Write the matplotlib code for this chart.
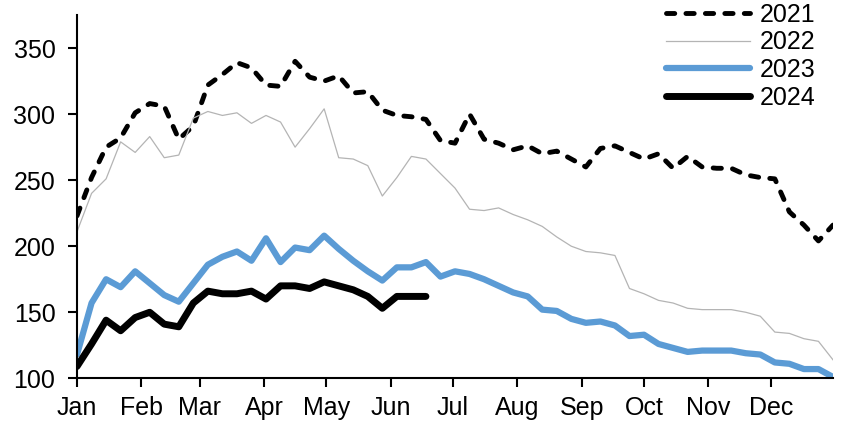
import matplotlib
matplotlib.use("Agg")
import matplotlib.pyplot as plt
import numpy as np

plt.rcParams['font.family'] = ['Liberation Sans', 'DejaVu Sans']

# weekly values, one point every 7 days from Jan 1
y2021 = [223, 252, 275, 282, 301, 308, 306, 281, 291, 322, 330, 339, 335, 322,
         321, 340, 328, 325, 329, 316, 317, 303, 299, 298, 296, 280, 278, 300,
         281, 278, 273, 276, 270, 272, 266, 260, 274, 276, 271, 266, 270, 259,
         268, 260, 259, 259, 254, 252, 251, 226, 216, 204, 216]
y2022 = [211, 240, 251, 279, 271, 283, 267, 269, 297, 302, 299, 301, 293, 299,
         294, 275, 289, 304, 267, 266, 261, 238, 252, 268, 266, 255, 244, 228,
         227, 229, 224, 220, 215, 207, 200, 196, 195, 193, 168, 164, 159, 157,
         153, 152, 152, 152, 150, 147, 135, 134, 130, 128, 114]
y2023 = [118, 157, 175, 169, 181, 172, 163, 158, 172, 186, 192, 196, 189, 206,
         188, 199, 197, 208, 198, 189, 181, 174, 184, 184, 188, 177, 181, 179,
         175, 170, 165, 162, 152, 151, 145, 142, 143, 140, 132, 133, 126, 123,
         120, 121, 121, 121, 119, 118, 112, 111, 107, 107, 101]
y2024 = [109, 126, 144, 136, 146, 150, 141, 139, 157, 166, 164, 164, 166, 160,
         170, 170, 168, 173, 170, 167, 162, 153, 162, 162, 162]

months = ['Jan', 'Feb', 'Mar', 'Apr', 'May', 'Jun', 'Jul', 'Aug', 'Sep', 'Oct', 'Nov', 'Dec']
month_start = [0, 31, 59, 90, 120, 151, 181, 212, 243, 273, 304, 334]

days = np.arange(len(y2021)) * 7

fig = plt.figure(figsize=(8.52, 4.30), dpi=100)
ax = fig.add_axes([0.0904, 0.1202, 0.8873, 0.8448])

ax.plot(days, y2021, color='black', lw=3.5, linestyle=(0, (1.7, 2.3)),
        dash_capstyle='round', dash_joinstyle='round', label='2021')
ax.plot(days, y2022, color='#b4b4b4', lw=0.9, label='2022')
ax.plot(days, y2023, color='#5b9bd5', lw=4.5, solid_capstyle='round',
        solid_joinstyle='round', label='2023')
ax.plot(days[:len(y2024)], y2024, color='black', lw=5.0, solid_capstyle='round',
        solid_joinstyle='round', label='2024')

ax.set_xlim(0, 364)
ax.set_ylim(100, 375)
ax.set_yticks([100, 150, 200, 250, 300, 350])
ax.set_xticks(month_start)
ax.set_xticklabels(months)

for s in ['top', 'right']:
    ax.spines[s].set_visible(False)
for s in ['left', 'bottom']:
    ax.spines[s].set_linewidth(1.5)
ax.tick_params(axis='both', direction='out', length=6.5, width=1.5, labelsize=18)
ax.tick_params(axis='y', pad=9)
ax.tick_params(axis='x', pad=6)

leg = fig.legend(loc='upper left', bbox_to_anchor=(666 / 852, 1 - 2.5 / 430),
                 frameon=False, fontsize=18, handlelength=3.36, handletextpad=0.4,
                 labelspacing=0.15, borderpad=0, borderaxespad=0)

fig.savefig('out.png', dpi=100)
